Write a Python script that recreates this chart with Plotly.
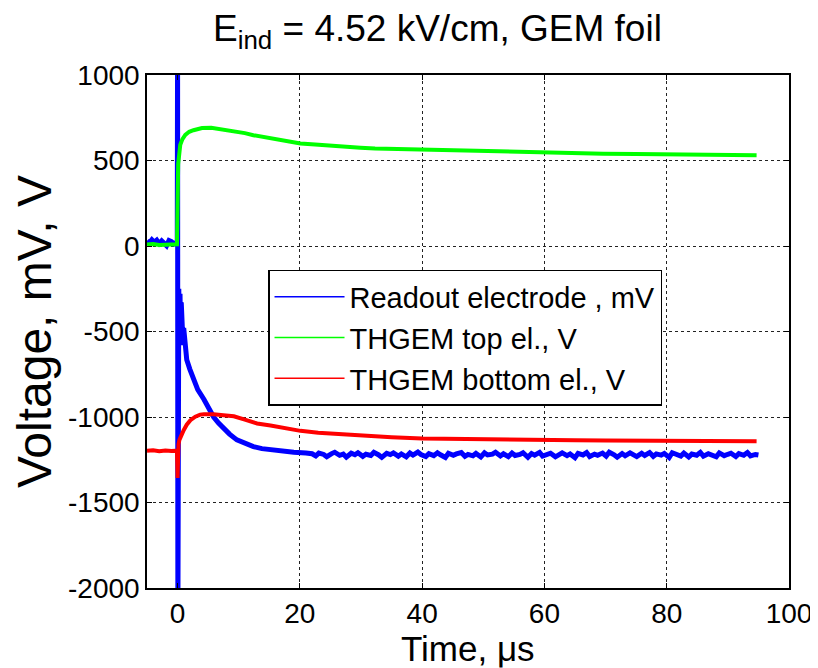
import plotly.graph_objects as go

# ---------------- data ----------------
# Readout electrode, mV
t_blue_pre = [-5, -4.6, -4.2, -3.8, -3.4, -3.0, -2.6, -2.2, -1.8, -1.4, -1.0, -0.6, -0.2, -0.05]
v_blue_pre = [30, 18, 36, 22, 34, 14, 30, 20, 2, 32, 26, 12, 28, 24]
t_blue_rise = [0.0, 0.05, 0.12, 0.2, 0.3, 0.4, 0.5, 0.6, 0.7, 0.8, 0.9, 1.0, 1.2,
               1.5, 2.0, 2.6, 3.3, 4.3, 5.1, 5.9, 6.7, 7.5, 8.5, 9.7, 11.0, 12.4,
               13.8, 15.2, 17.0, 19.0, 21.0]
v_blue_rise = [1200, -2200, 300, -250, -550, -280, -560, -330, -570, -400, -580, -480, -600,
               -665, -720, -780, -840, -896, -950, -1000, -1035, -1067, -1100, -1134, -1155, -1173,
               -1185, -1192, -1200, -1206, -1210]
t_blue_tail = [22, 22.6, 23.1, 23.9, 24.4, 25.2, 25.7, 26.5, 27.1, 27.6, 28.4, 29.0, 29.5,
               30.3, 30.8, 31.6, 32.1, 32.9, 33.4, 34.2, 34.8, 35.3, 36.1, 36.6, 37.4, 38.0,
               38.5, 39.3, 39.8, 40.6, 41.1, 41.9, 42.5, 43.0, 43.8, 44.3, 45.1, 45.6, 46.4,
               47.0, 47.5, 48.3, 48.8, 49.6, 50.2, 50.7, 51.5, 52.0, 52.8, 53.3, 54.1, 54.7,
               55.2, 56.0, 56.5, 57.3, 57.9, 58.4, 59.2, 59.7, 60.5, 61.0, 61.8, 62.4, 62.9,
               63.7, 64.2, 65.0, 65.5, 66.3, 66.9, 67.4, 68.2, 68.7, 69.5, 70.1, 70.6, 71.4,
               71.9, 72.7, 73.2, 74.0, 74.6, 75.1, 75.9, 76.4, 77.2, 77.8, 78.3, 79.1, 79.6,
               80.4, 80.9, 81.7, 82.3, 82.8, 83.6, 84.1, 84.9, 85.5, 86.0, 86.8, 87.3, 88.1,
               88.6, 89.4, 90.0, 90.5, 91.3, 91.8, 92.6, 93.2, 93.7, 94.5, 95.0]
v_blue_tail = [-1215, -1228, -1211, -1219, -1232, -1214, -1206, -1224, -1217, -1235, -1212,
               -1221, -1209, -1230, -1218, -1225, -1207, -1222, -1236, -1213, -1220, -1210,
               -1229, -1216, -1233, -1211, -1223, -1205, -1219, -1231, -1214, -1226, -1209,
               -1221, -1237, -1212, -1224, -1216, -1208, -1230, -1219, -1227, -1213, -1234,
               -1210, -1222, -1217, -1206, -1228, -1215, -1232, -1211, -1225, -1219, -1209,
               -1236, -1214, -1223, -1207, -1229, -1218, -1212, -1233, -1220, -1210, -1226,
               -1216, -1238, -1213, -1222, -1208, -1231, -1217, -1224, -1211, -1229, -1206,
               -1221, -1235, -1214, -1227, -1210, -1219, -1232, -1212, -1225, -1208, -1230,
               -1216, -1223, -1213, -1237, -1209, -1220, -1228, -1211, -1234, -1217, -1224,
               -1207, -1229, -1215, -1221, -1233, -1210, -1226, -1218, -1212, -1231, -1214,
               -1224, -1208, -1227, -1219, -1222]
t_blue = t_blue_pre + t_blue_rise + t_blue_tail
v_blue = v_blue_pre + v_blue_rise + v_blue_tail

# THGEM top electrode, V
t_green = [-5, -4, -3, -2, -1, -0.1, 0.0, 0.1, 0.44, 0.8, 1.26, 1.9, 2.6, 3.3, 4.0,
           5.5, 7.0, 8.3, 9.7, 11.0, 12.4, 13.8, 15.2, 17.5, 20.1, 22.5, 25.0, 27.5,
           29.9, 32.3, 34.8, 37.5, 40.2, 43.0, 45.7, 48.0, 50.6, 55.0, 59.8, 65.0,
           69.6, 75.0, 79.7, 85.0, 90.0, 94.7]
v_green = [8, 12, 6, 10, 9, 10, 300, 480, 592, 625, 650, 668, 677, 686, 690,
           692, 683, 679, 671, 660, 648, 640, 629, 614, 600, 593, 585, 580,
           575, 570, 568, 562, 559, 558, 556, 554, 552, 549, 546, 542,
           540, 538, 536, 535, 533, 531]

# THGEM bottom electrode, V
t_red = [-5, -4, -3, -2, -1, -0.1, 0.0, 0.05, 0.15, 0.3, 0.6, 1.0, 1.5, 2.1, 2.9,
         3.7, 4.3, 5.9, 7.5, 9.2, 11.0, 13.0, 15.2, 17.5, 20.1, 23.0, 26.1, 31.0,
         35.0, 40.0, 45.0, 50.0, 55.0, 59.8, 65.0, 70.0, 75.0, 79.7, 85.0, 90.0, 94.7]
v_red = [-1198, -1195, -1200, -1196, -1199, -1197, -1356, -1200, -1160, -1134, -1105, -1077, -1045, -1019, -998,
         -986, -984, -984, -990, -996, -1015, -1038, -1050, -1066, -1081, -1092, -1100, -1111,
         -1118, -1125, -1128, -1130, -1132, -1134, -1136, -1137, -1137, -1138, -1140, -1141, -1142]

series_names = ["Readout electrode , mV", "THGEM top el., V", "THGEM bottom el., V"]
series_colors = ["#0000FF", "#00FF00", "#FF0000"]

x_ticks = [0, 20, 40, 60, 80, 100]
y_ticks = [-2000, -1500, -1000, -500, 0, 500, 1000]
y_ticktext = ["-2000", "-1500", "-1000", "-500", "0", "500", "1000"]

FONT = "Liberation Sans, Arial, sans-serif"

fig = go.Figure()
data_xy = [(t_blue, v_blue, 5), (t_green, v_green, 4), (t_red, v_red, 4)]
for (xs, ys, w), name, col in zip(data_xy, series_names, series_colors):
    fig.add_trace(go.Scatter(x=xs, y=ys, mode="lines", name=name, legendgroup=name,
                             showlegend=False, line=dict(color=col, width=w)))
# legend entries drawn with thin sample lines, as in the reference
for name, col in zip(series_names, series_colors):
    fig.add_trace(go.Scatter(x=[None], y=[None], mode="lines", name=name, legendgroup=name,
                             showlegend=True, line=dict(color=col, width=1.5)))

axis_common = dict(
    showline=True, linecolor="black", linewidth=1.5, mirror="ticks",
    ticks="inside", ticklen=5, tickcolor="black",
    showgrid=True, gridcolor="#222222", griddash="dot", gridwidth=1,
    zeroline=False, automargin=False,
    tickfont=dict(family=FONT, size=28, color="black"),
)

fig.update_xaxes(range=[-5, 100], tickvals=x_ticks, **axis_common)
fig.update_yaxes(range=[-2000, 1000], tickvals=y_ticks, ticktext=y_ticktext,
                 title=dict(text="Voltage, mV, V", font=dict(family=FONT, size=48, color="black"), standoff=2),
                 **axis_common)

# page body adds an 8 px offset; margins compensate so the plot box lands where the reference has it
fig.update_layout(
    width=818, height=668,
    margin=dict(l=139, r=37, t=67, b=88),
    paper_bgcolor="white", plot_bgcolor="white",
    title=dict(text="E<sub>ind</sub> = 4.52 kV/cm, GEM foil", x=0.525, xanchor="center",
               y=0.97, yanchor="middle",
               font=dict(family=FONT, size=37, color="black")),
    legend=dict(x=0.1885, y=0.620, xanchor="left", yanchor="top",
                bgcolor="white", bordercolor="black", borderwidth=1.5,
                font=dict(family=FONT, size=29, color="black"),
                itemwidth=70, tracegroupgap=0),
    showlegend=True,
    annotations=[dict(text="Time, μs", xref="paper", yref="paper", x=0.5, y=-0.117,
                      xanchor="center", yanchor="middle", showarrow=False,
                      font=dict(family=FONT, size=35, color="black"))],
)

fig.write_html("out.html")
